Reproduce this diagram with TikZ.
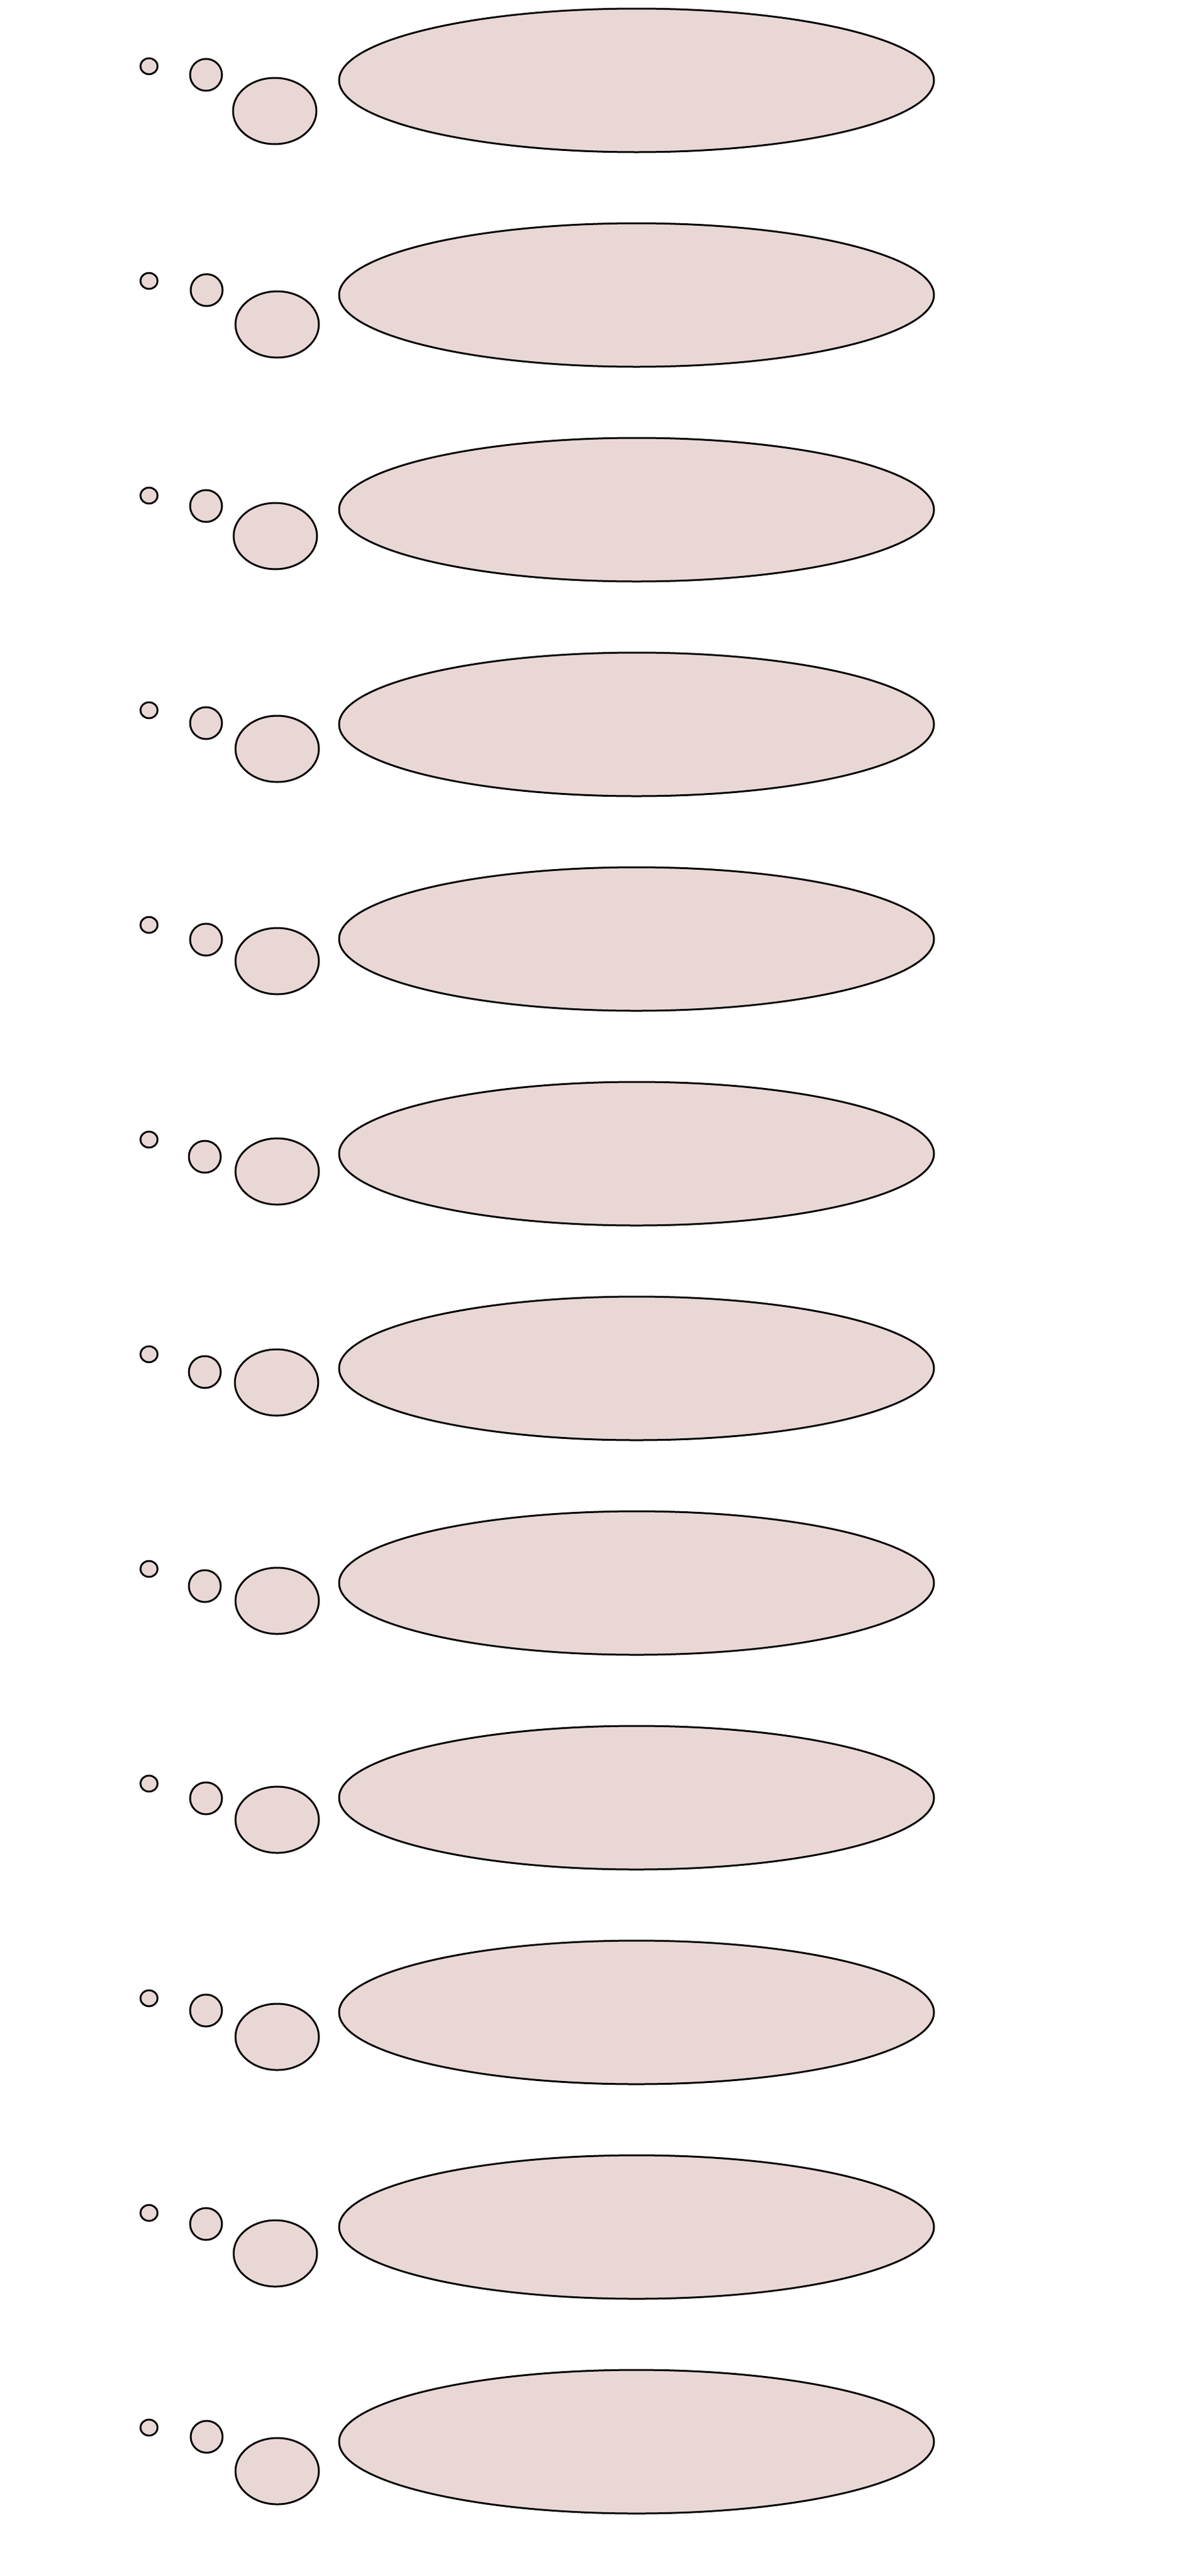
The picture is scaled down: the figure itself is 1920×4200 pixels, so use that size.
\documentclass[tikz,border=0pt]{standalone}
\usetikzlibrary{shapes.geometric}
\definecolor{puff}{RGB}{233,215,214}

\begin{document}
\begin{tikzpicture}[x=1pt,y=-1pt,line width=3pt,
    bubble/.style={ellipse,draw=black,fill=puff,inner sep=0pt}]

    \useasboundingbox (0,0) rectangle (1920,4200);

    % one thought bubble per row: big cloud and three trailing puffs
    \foreach \r/\mx/\my/\lx/\ly in {0/336/-9/448/50, 1/337/-8/452/48, 2/336/-6/449/43,
        3/336/-2/452/40, 4/336/1/452/36, 5/334/5/452/29, 6/334/6/451/23,
        7/334/5/452/29, 8/336/1/452/36, 9/336/-3/452/40, 10/336/-5/449/43,
        11/337/-8/452/48}
    {
        \node[bubble, minimum width=970pt, minimum height=234pt] (big\r) at (1038,131+350*\r) {};
        \node[bubble, minimum width=28pt, minimum height=26pt] (small\r) at (243,108+350*\r) {};
        \node[bubble, minimum width=52pt, minimum height=52pt] (mid\r) at (\mx,131+350*\r+\my) {};
        \node[bubble, minimum width=136pt, minimum height=108pt] (large\r) at (\lx,131+350*\r+\ly) {};
    }
\end{tikzpicture}
\end{document}
